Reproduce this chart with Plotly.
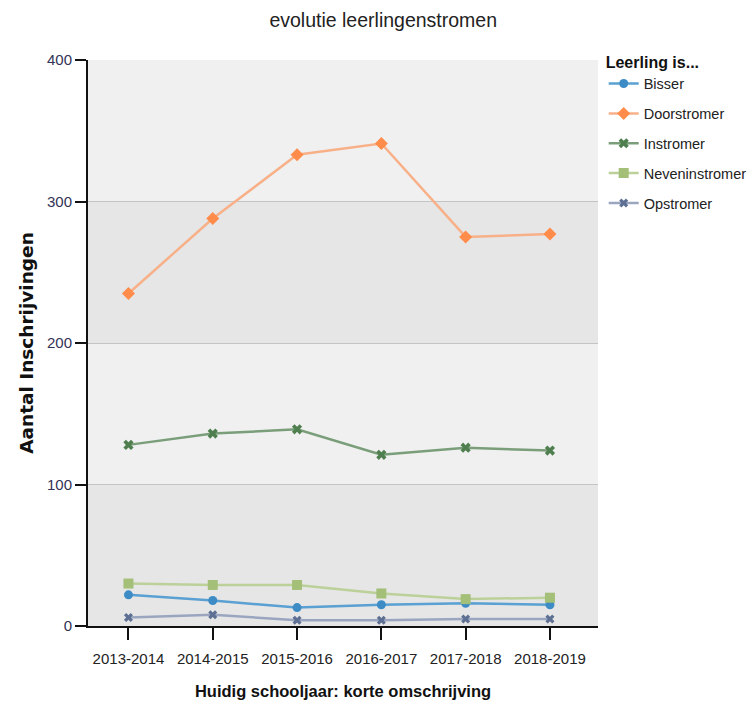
import plotly.graph_objects as go

years = ["2013-2014", "2014-2015", "2015-2016", "2016-2017", "2017-2018", "2018-2019"]
bisser = [22, 18, 13, 15, 16, 15]
doorstromer = [235, 288, 333, 341, 275, 277]
instromer = [128, 136, 139, 121, 126, 124]
neveninstromer = [30, 29, 29, 23, 19, 20]
opstromer = [6, 8, 4, 4, 5, 5]

series = [
    ("Bisser", bisser, "#3d8cc6", "#5aa0d2", "circle", 9),
    ("Doorstromer", doorstromer, "#ff8c4a", "#f8b088", "diamond", 10),
    ("Instromer", instromer, "#4f7f4f", "#7a9e7a", "x", 9),
    ("Neveninstromer", neveninstromer, "#a3bf78", "#bcd09a", "square", 10),
    ("Opstromer", opstromer, "#5d6f92", "#9aa6c0", "x", 8),
]

FONT = "Liberation Sans, Arial, sans-serif"

fig = go.Figure()
for name, vals, mc, lc, sym, size in series:
    fig.add_trace(go.Scatter(
        x=list(range(len(years))), y=vals, name=name, mode="lines+markers",
        legendgroup=name,
        line=dict(color=lc, width=2.5),
        marker=dict(color=mc, symbol=sym, size=size),
    ))

bands = [(0, 100, "#e6e6e6"), (100, 200, "#f0f0f0"), (200, 300, "#e6e6e6"), (300, 400, "#f0f0f0")]
for y0, y1, c in bands:
    fig.add_shape(type="rect", xref="paper", yref="y", x0=0, x1=1, y0=y0, y1=y1,
                  fillcolor=c, line=dict(width=0), layer="below")

fig.update_layout(
    width=755, height=706,
    margin=dict(l=80, r=165, t=52, b=88, autoexpand=False),
    paper_bgcolor="white", plot_bgcolor="white",
    font=dict(family=FONT, size=14, color="#222"),
    title=dict(text="evolutie leerlingenstromen", x=0.497, xanchor="center", y=0.992, yanchor="top",
               font=dict(family=FONT, size=19.5, color="#222")),
    legend=dict(xref="container", yref="container", x=0.789, xanchor="left", y=0.945, yanchor="top",
                bgcolor="rgba(0,0,0,0)",
                title=dict(text="<b>Leerling is...</b>", font=dict(family=FONT, size=16, color="#111")),
                font=dict(family=FONT, size=14.5, color="#222"), tracegroupgap=8,
                itemwidth=30),
    showlegend=True,
)
fig.update_xaxes(
    tickmode="array", tickvals=list(range(len(years))), ticktext=years,
    range=[-0.48, 5.57], showgrid=False, zeroline=False,
    showline=True, linecolor="#111", linewidth=2,
    ticks="outside", ticklen=12, tickcolor="#111", tickwidth=1.5,
    ticklabelstandoff=6,
    tickfont=dict(family=FONT, size=15, color="#222"),
    title=dict(text="<b>Huidig schooljaar: korte omschrijving</b>", standoff=19,
               font=dict(family=FONT, size=16.5, color="#111")),
)
fig.update_yaxes(
    range=[0, 400], tickvals=[0, 100, 200, 300, 400], showgrid=True,
    gridcolor="#c4c4c4", gridwidth=1, zeroline=False,
    showline=True, linecolor="#111", linewidth=2,
    ticks="outside", ticklen=11, tickcolor="#111", tickwidth=1.5,
    tickfont=dict(family=FONT, size=15, color="#333355"),
    title=dict(text="<b>Aantal Inschrijvingen</b>", standoff=8,
               font=dict(family="DejaVu Sans, sans-serif", size=18.5, color="#111")),
)

fig.write_html("out.html")
